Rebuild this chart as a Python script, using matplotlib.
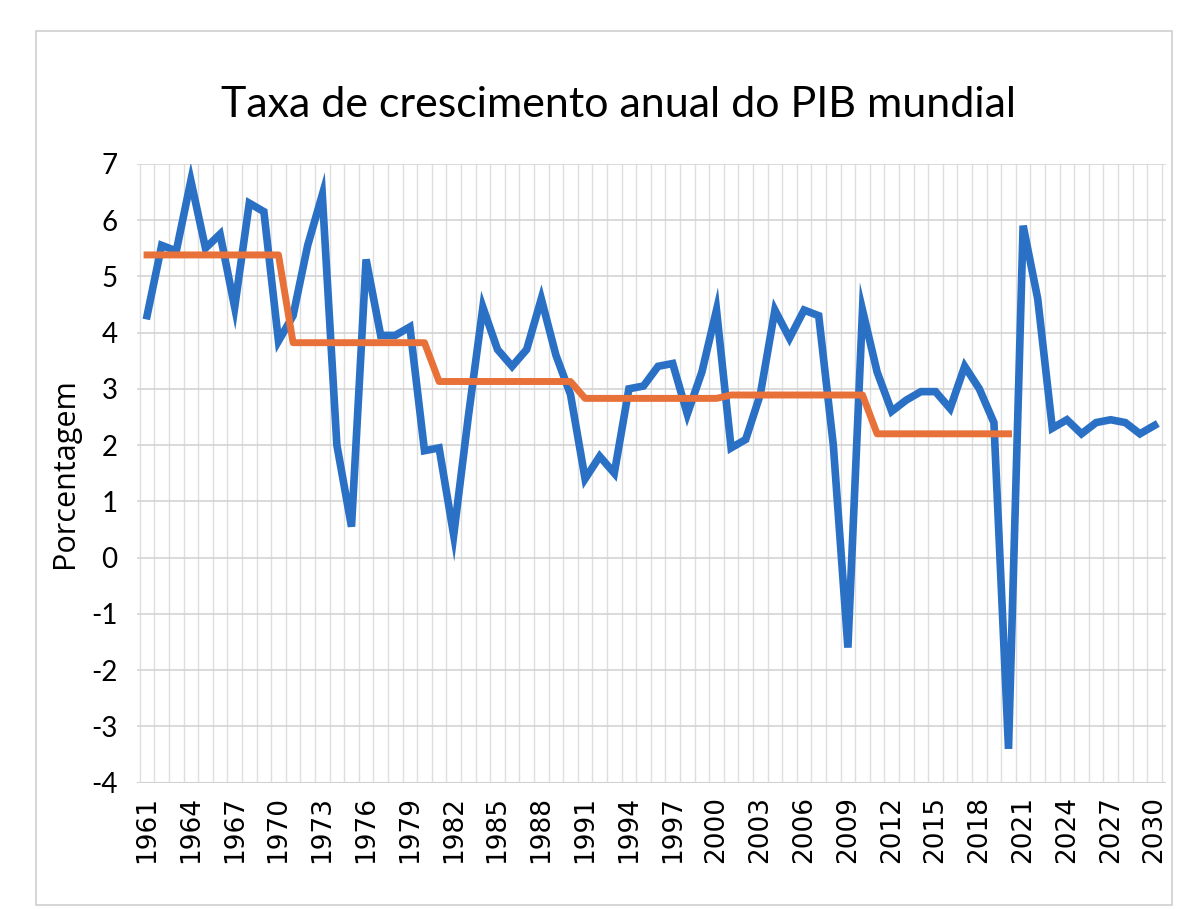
import numpy as np
import matplotlib.pyplot as plt
from matplotlib.patches import Rectangle

# anos 1961-2030
years = np.arange(1961, 2031)

# taxa de crescimento anual do PIB mundial (%)
growth = [4.3, 5.55, 5.45, 6.7, 5.5, 5.75, 4.45, 6.3, 6.15, 3.85,
          4.3, 5.55, 6.45, 2.0, 0.55, 5.3, 3.95, 3.95, 4.1, 1.9,
          1.95, 0.4, 2.5, 4.45, 3.7, 3.4, 3.7, 4.6, 3.6, 2.9,
          1.4, 1.8, 1.5, 3.0, 3.05, 3.4, 3.45, 2.55, 3.3, 4.4,
          1.95, 2.1, 2.9, 4.4, 3.9, 4.4, 4.3, 2.0, -1.6, 4.4,
          3.3, 2.6, 2.8, 2.95, 2.95, 2.65, 3.4, 3.0, 2.4, -3.4,
          5.9, 4.6, 2.3, 2.45, 2.2, 2.4, 2.45, 2.4, 2.2, 2.35]

# media por decada (linha laranja), 1961-2020
decade_levels = [5.38, 3.82, 3.13, 2.83, 2.89, 2.2]
avg_years = np.arange(1961, 2021)
avg_line = np.repeat(decade_levels, 10)

tick_years = np.arange(1961, 2031, 3)
y_ticks = list(range(-4, 8))

fig = plt.figure(figsize=(11.9, 9.1), dpi=100)
ax = fig.add_axes([0.115, 0.14, 0.865, 0.68])

ax.plot(years, growth, color='#2a71c6', lw=5.5, solid_joinstyle='miter', zorder=3)
ax.plot(avg_years, avg_line, color='#e8713a', lw=5, zorder=4)

ax.set_xlim(1960.3, 2030.8)
ax.set_ylim(-4, 7)
ax.set_yticks(y_ticks)
ax.set_xticks(tick_years)
ax.set_xticks(np.arange(1960.5, 2031, 1), minor=True)
ax.set_xticklabels([str(y) for y in tick_years], rotation=90,
                   fontsize=19, family='DejaVu Sans')
ax.set_yticklabels([str(v) for v in y_ticks], fontsize=20, family='Lato')
ax.tick_params(axis='both', which='both', length=0)
ax.tick_params(axis='x', pad=10)
ax.tick_params(axis='y', pad=14)

ax.grid(axis='y', which='major', color='#d4d4d4', lw=1.2)
ax.grid(axis='x', which='minor', color='#dedede', lw=1.0)
for s in ax.spines.values():
    s.set_visible(False)
ax.axhline(-4, color='#c8c8c8', lw=1.5, zorder=1)

ax.set_ylabel('Porcentagem', fontsize=22, family='Open Sans', labelpad=8)
fig.text(0.52, 0.885, 'Taxa de crescimento anual do PIB mundial',
         ha='center', va='center', fontsize=31, family='Lato')

# moldura da area do grafico
fig.patches.append(Rectangle((0.03, 0.006), 0.955, 0.96, transform=fig.transFigure,
                             fill=False, edgecolor='#cfcfcf', lw=1.2))

fig.savefig('out.png', dpi=100)
